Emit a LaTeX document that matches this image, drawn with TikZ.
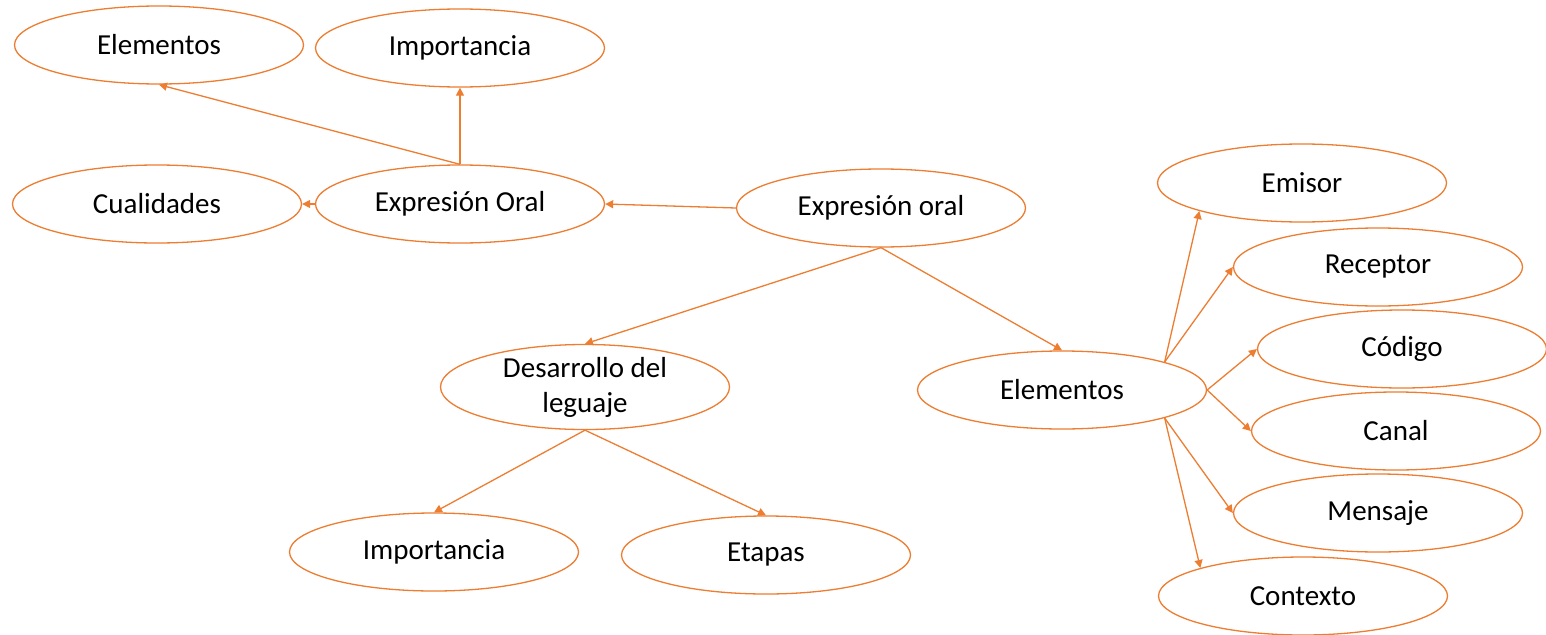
\documentclass[tikz,border=0pt]{standalone}
\usepackage{fontspec}
\setmainfont{Carlito}
\usetikzlibrary{shapes.geometric,arrows.meta}
\definecolor{oforange}{RGB}{237,125,49}
\begin{document}
\begin{tikzpicture}[x=1pt,y=-1pt,
  bub/.style={ellipse,draw=oforange,line width=1.3pt,fill=white,inner sep=0pt,
    minimum width=289pt,minimum height=78pt,align=center,
    font=\fontsize{29}{35}\selectfont},
  conn/.style={draw=oforange,line width=1.3pt,-{Triangle[width=8pt,length=8pt]}}]
\useasboundingbox (0,0) rectangle (1546,634);
\node[bub] (elA) at (159,45) {Elementos};
\node[bub] (impA) at (460,48) {Importancia};
\node[bub] (cual) at (157,204) {Cualidades};
\node[bub] (expO) at (460,204) {Expresión Oral};
\node[bub] (expo) at (881,208) {Expresión oral};
\node[bub] (des) at (585,387) {Desarrollo del\\leguaje};
\node[bub] (impB) at (434,552) {Importancia};
\node[bub] (etap) at (766,555) {Etapas};
\node[bub] (elB) at (1062,390) {Elementos};
\node[bub] (emi) at (1302,183) {Emisor};
\node[bub] (rec) at (1378,267) {Receptor};
\node[bub] (cod) at (1402,349) {Código};
\node[bub] (can) at (1396,431) {Canal};
\node[bub] (men) at (1378,513) {Mensaje};
\node[bub] (con) at (1303,596) {Contexto};
\draw[conn] (expO.north) -- (impA.south);
\draw[conn] (expO.north) -- (elA.south);
\draw[conn] (expO.west) -- (cual.east);
\draw[conn] (expo.west) -- (expO.east);
\draw[conn] (expo.south) -- (des.north);
\draw[conn] (expo.south) -- (elB.north);
\draw[conn] (des.south) -- (impB.north);
\draw[conn] (des.south) -- (etap.north);
\draw[conn] (elB.north east) -- (emi.south west);
\draw[conn] (elB.north east) -- (rec.west);
\draw[conn] (elB.east) -- (cod.west);
\draw[conn] (elB.east) -- (can.west);
\draw[conn] (elB.south east) -- (men.west);
\draw[conn] (elB.south east) -- (con.north west);
\end{tikzpicture}
\end{document}
